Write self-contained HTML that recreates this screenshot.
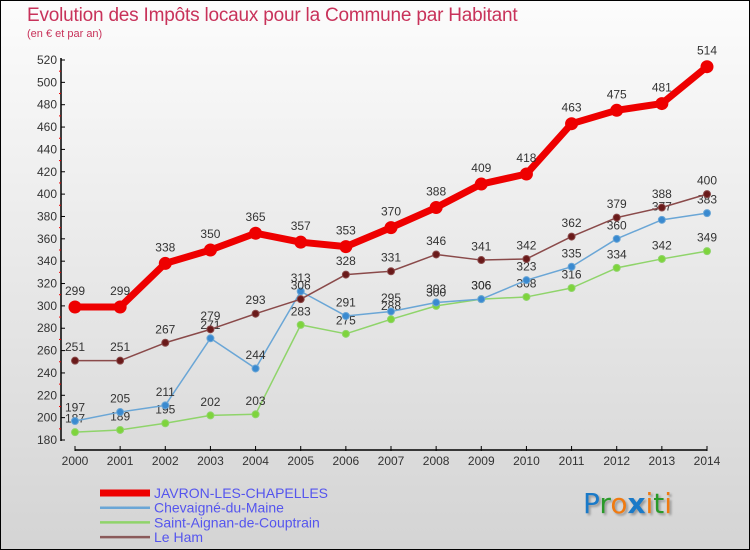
<!DOCTYPE html>
<html><head><meta charset="utf-8"><style>
body{margin:0}
#c{width:748px;height:548px;border:1px solid #000;background:linear-gradient(#fcfcfc,#d4d4d4);position:relative;font-family:"Liberation Sans",sans-serif;overflow:hidden}
.t{position:absolute;color:#c8325a}
</style></head><body>
<div id="c">
<div class="t" style="left:26px;top:4px;font-size:19px;letter-spacing:-0.2px">Evolution des Impôts locaux pour la Commune par Habitant</div>
<div class="t" style="left:26px;top:27px;font-size:11px">(en € et par an)</div>
<svg id="s" width="750" height="550" style="position:absolute;left:-1px;top:-1px;font-family:'Liberation Sans',sans-serif"></svg>
<div style="position:absolute;left:582px;top:486px;font-size:28px;font-family:'DejaVu Sans',sans-serif;text-shadow:2px 2px 2px #999"><span style="color:#1a7ac8">P</span><span style="color:#2a9a2a">r</span><span style="color:#f07a10">o</span><span style="color:#1a7ac8;font-weight:bold">x</span><span style="color:#f07a10">i</span><span style="color:#2a9a2a">t</span><span style="color:#f07a10">i</span></div>
</div>
<script>
const years=[2000,2001,2002,2003,2004,2005,2006,2007,2008,2009,2010,2011,2012,2013,2014];
const yTicks=[180,200,220,240,260,280,300,320,340,360,380,400,420,440,460,480,500,520];
const javron=[299,299,338,350,365,357,353,370,388,409,418,463,475,481,514];
const chevaigne=[197,205,211,271,244,313,291,295,303,306,323,335,360,377,383];
const aignan=[187,189,195,202,203,283,275,288,300,306,308,316,334,342,349];
const leham=[251,251,267,279,293,306,328,331,346,341,342,362,379,388,400];
const names=["JAVRON-LES-CHAPELLES","Chevaigné-du-Maine","Saint-Aignan-de-Couptrain","Le Ham"];
const svg=document.getElementById('s');const NS='http://www.w3.org/2000/svg';
const X=i=>75+i*(632/14);const Y=v=>440-(v-180)*380/340;
function mk(t,a,p){const e=document.createElementNS(NS,t);for(const k in a)e.setAttribute(k,a[k]);(p||svg).appendChild(e);return e;}
let ax=mk('line',{x1:61,y1:58,x2:61,y2:441,stroke:'#000','stroke-width':1.5});


let bx=mk('line',{x1:75,y1:450,x2:707,y2:450,stroke:'#000','stroke-width':1.5});


yTicks.forEach(v=>{mk('line',{x1:61,x2:65,y1:Y(v),y2:Y(v),stroke:'#000'});
if(v<520)mk('line',{x1:59,x2:61,y1:Y(v+10),y2:Y(v+10),stroke:'#e00'});
const t=mk('text',{x:57,y:Y(v)+4,'text-anchor':'end','font-size':12,fill:'#333'});t.textContent=v;

});
years.forEach((y,i)=>{mk('line',{x1:X(i),x2:X(i),y1:446,y2:451,stroke:'#000'});
const t=mk('text',{x:X(i),y:465,'text-anchor':'middle','font-size':12,fill:'#333'});t.textContent=y;

});
function series(d,col,dot,w,r,name){
const g=mk('g',{});


mk('polyline',{points:d.map((v,i)=>X(i)+','+Y(v)).join(' '),fill:'none',stroke:col,'stroke-width':w,'stroke-linejoin':'round'},g);
d.forEach((v,i)=>{mk('circle',{cx:X(i),cy:Y(v),r:r,fill:dot,stroke:col,'stroke-width':1},g);
const t=mk('text',{x:X(i),y:Y(v)-(r+6),'text-anchor':'middle','font-size':12,fill:'#333'},g);t.textContent=v;});}
series(aignan,'#8fd46a','#7ed43c',1.5,3.5,'series-saint-aignan');
series(chevaigne,'#6aa6d6','#3a8ad0',1.5,3.5,'series-chevaigne');
series(leham,'#8a4a4a','#6a1a1a',1.5,3.5,'series-le-ham');
series(javron,'#ee0000','#ee0000',7,6,'series-javron');
const cols=['#ee0000','#6aa6d6','#8fd46a','#8a5a5a'],ws=[7,2.5,2.5,2.5];
names.forEach((n,i)=>{const y=493+i*14.7;
mk('line',{x1:100,x2:150,y1:y,y2:y,stroke:cols[i],'stroke-width':ws[i]});
const t=mk('text',{x:154,y:y+5,'font-size':14,fill:'#5555ee'});t.textContent=n;

});
</script>
</body></html>
